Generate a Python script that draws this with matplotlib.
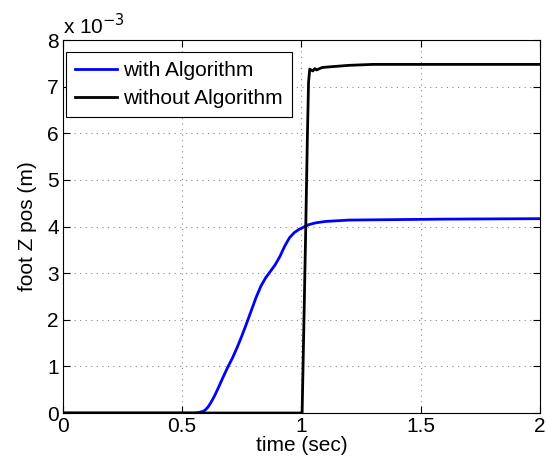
import numpy as np
import matplotlib.pyplot as plt
from matplotlib.ticker import FuncFormatter

plt.rcParams['font.family'] = ['Liberation Sans', 'DejaVu Sans']

# dati (tempo in s, posizione in mm -> poi in m)
t_con = [0.0, 0.55, 0.57, 0.59, 0.60, 0.61, 0.62, 0.635, 0.65, 0.67, 0.69,
         0.71, 0.73, 0.75, 0.77, 0.79, 0.81, 0.83, 0.85, 0.87, 0.89, 0.91,
         0.93, 0.95, 0.97, 0.99, 1.01, 1.03, 1.06, 1.10, 1.20, 1.40, 1.60, 2.00]
z_con = [0.0, 0.0, 0.01, 0.04, 0.08, 0.14, 0.22, 0.36, 0.52, 0.75, 0.97,
         1.17, 1.40, 1.65, 1.92, 2.20, 2.48, 2.72, 2.90, 3.04, 3.18, 3.36,
         3.58, 3.76, 3.87, 3.94, 3.99, 4.04, 4.08, 4.11, 4.14, 4.15, 4.16, 4.17]

t_senza = [0.0, 1.003, 1.010, 1.018, 1.025, 1.030, 1.035, 1.040, 1.048,
           1.056, 1.064, 1.072, 1.085, 1.10, 1.15, 1.20, 1.30, 2.00]
z_senza = [0.0, 0.0, 1.8, 3.9, 5.9, 7.1, 7.38, 7.36, 7.34, 7.39, 7.36,
           7.38, 7.41, 7.42, 7.44, 7.46, 7.48, 7.48]

z_con = np.array(z_con) * 1e-3
z_senza = np.array(z_senza) * 1e-3

fig = plt.figure(figsize=(5.47, 4.67), dpi=100)
ax = fig.add_axes([0.115, 0.1156, 0.872, 0.7984])

ax.plot(t_con, z_con, color='#0000ff', lw=2, label='with Algorithm')
ax.plot(t_senza, z_senza, color='black', lw=2, label='without Algorithm')

ax.set_xlim(0, 2)
ax.set_ylim(0, 8e-3)
ax.set_xticks([0, 0.5, 1, 1.5, 2])
ax.set_xticklabels(['0', '0.5', '1', '1.5', '2'])
ax.set_yticks(np.arange(0, 9) * 1e-3)
ax.yaxis.set_major_formatter(FuncFormatter(lambda v, p: '%g' % round(v * 1e3, 6)))

ax.tick_params(direction='in', top=True, right=True, labelsize=15, length=5,
               pad=3)
ax.grid(True, linestyle=(0, (1, 4)), color='#888888', lw=0.8)
ax.text(0.0, 1.005, r'x 10$^{-3}$', transform=ax.transAxes, fontsize=15,
        ha='left', va='bottom')

ax.set_xlabel('time (sec)', fontsize=15, labelpad=0)
ax.set_ylabel('foot Z pos (m)', fontsize=15, labelpad=7)

leg = ax.legend(loc='upper left', bbox_to_anchor=(0.006, 0.968),
                fontsize=15, fancybox=False, framealpha=1,
                edgecolor='black', borderaxespad=0, handlelength=2.0,
                handletextpad=0.3, labelspacing=0.4, borderpad=0.45)
leg.get_frame().set_linewidth(0.8)

fig.savefig('out.png', dpi=100)
